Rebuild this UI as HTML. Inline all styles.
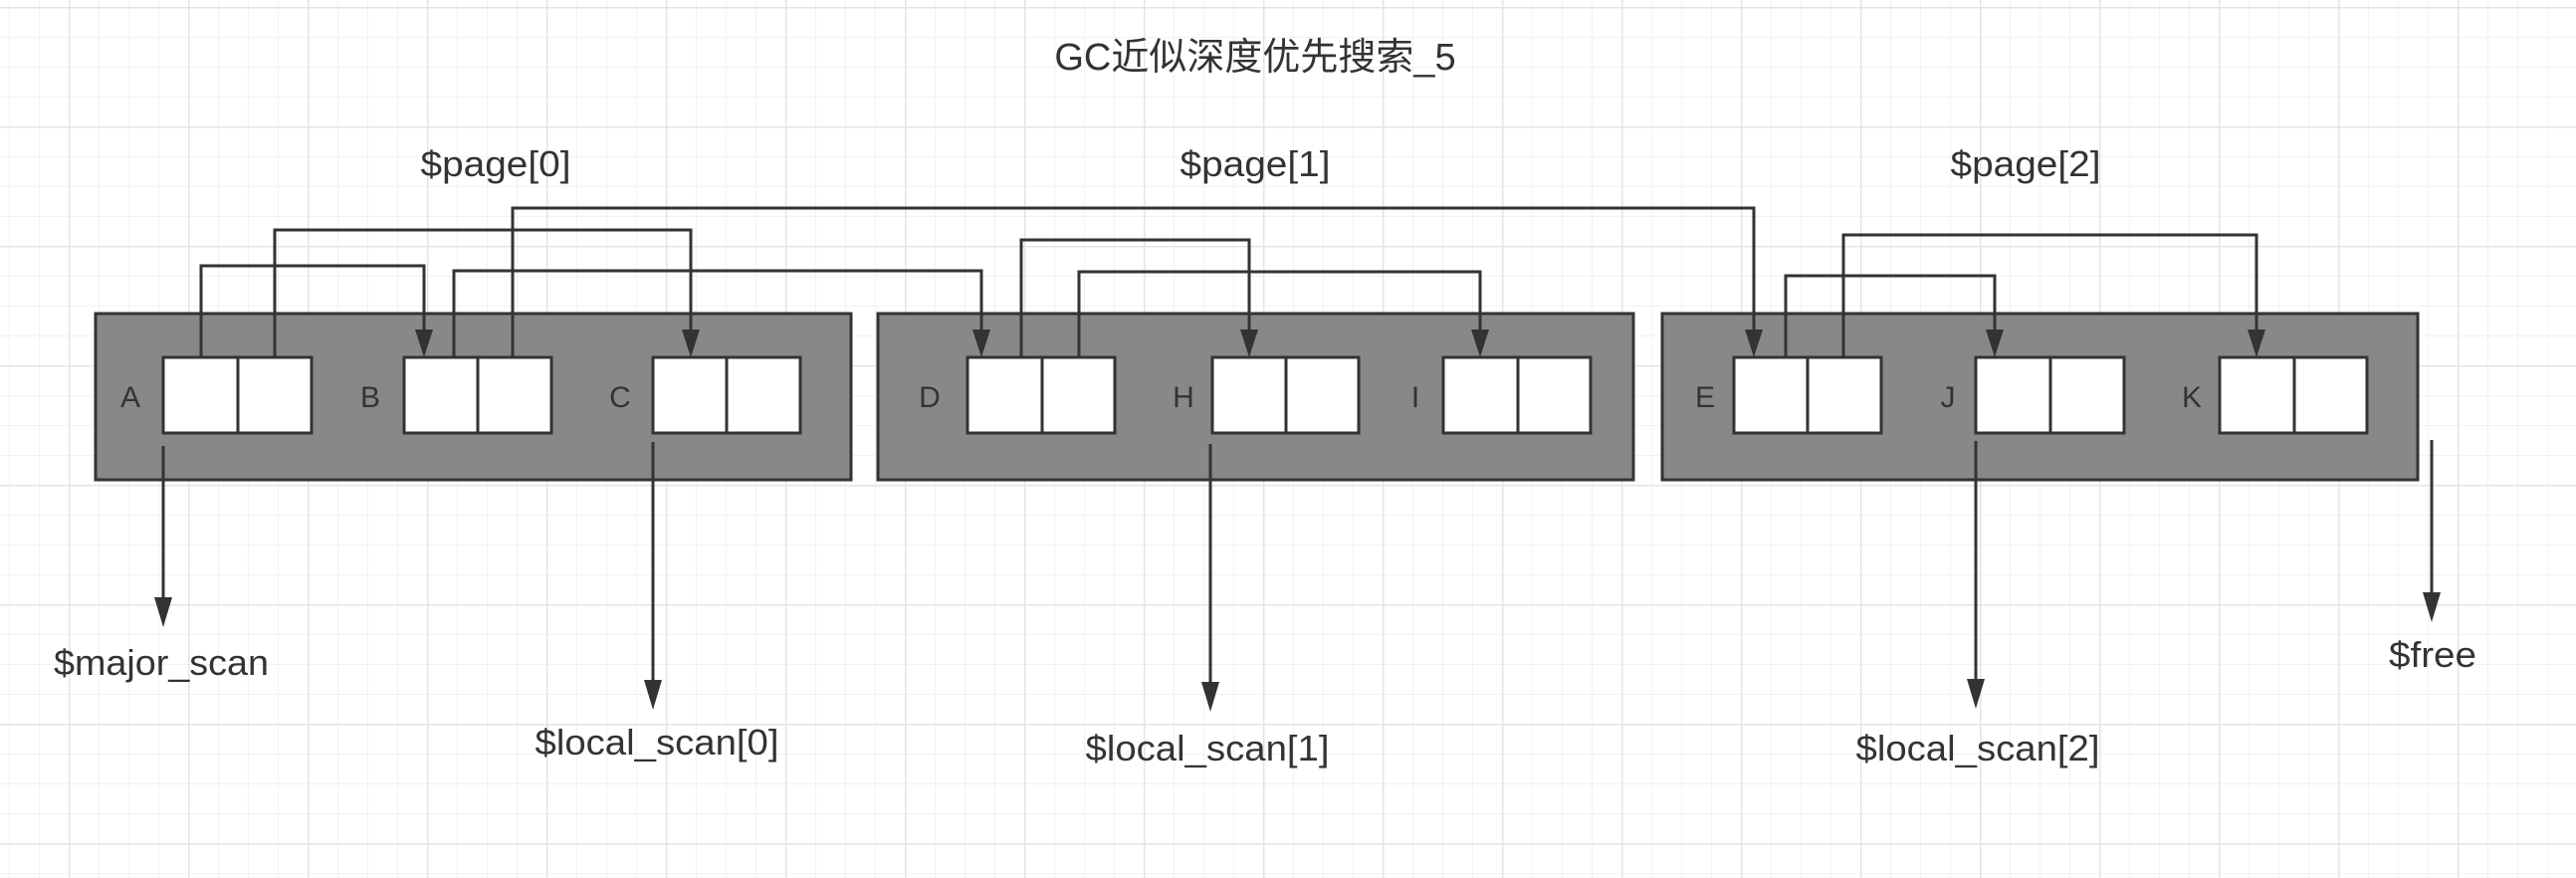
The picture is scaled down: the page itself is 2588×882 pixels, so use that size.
<!DOCTYPE html>
<html><head><meta charset="utf-8"><style>
html,body{margin:0;padding:0;background:#fff;}
svg{display:block;}
text{font-family:"Liberation Sans","Noto Sans CJK SC",sans-serif;fill:#333;}
</style></head><body>
<svg width="2588" height="882" viewBox="0 0 2588 882" xmlns="http://www.w3.org/2000/svg">
<defs>
<pattern id="minor" x="9" y="7" width="30" height="30" patternUnits="userSpaceOnUse">
<path d="M0 0H30M0 0V30" stroke="#eeeeee" stroke-width="1.5" fill="none"/>
</pattern>
<pattern id="major" x="69" y="7" width="120" height="120" patternUnits="userSpaceOnUse">
<path d="M0 0H120M0 0V120" stroke="#e4e4e4" stroke-width="3" fill="none"/>
</pattern>
</defs>
<rect width="2588" height="882" fill="url(#minor)"/>
<rect width="2588" height="882" fill="url(#major)"/>

<text x="1261" y="70" font-size="38" text-anchor="middle">GC近似深度优先搜索_5</text>
<g font-size="36" text-anchor="middle">
<text x="498" y="177" textLength="151" lengthAdjust="spacingAndGlyphs">$page[0]</text>
<text x="1261" y="177" textLength="151" lengthAdjust="spacingAndGlyphs">$page[1]</text>
<text x="2035" y="177" textLength="151" lengthAdjust="spacingAndGlyphs">$page[2]</text>
</g>

<g fill="#888" stroke="#333" stroke-width="3">
<rect x="96" y="315" width="759" height="167"/>
<rect x="882" y="315" width="759" height="167"/>
<rect x="1670" y="315" width="759" height="167"/>
</g>
<g fill="#fff" stroke="#333" stroke-width="3">
<rect x="164" y="359" width="149" height="76"/><line x1="239" y1="359" x2="239" y2="435"/>
<rect x="406" y="359" width="148" height="76"/><line x1="480" y1="359" x2="480" y2="435"/>
<rect x="656" y="359" width="148" height="76"/><line x1="730" y1="359" x2="730" y2="435"/>
<rect x="972" y="359" width="148" height="76"/><line x1="1047" y1="359" x2="1047" y2="435"/>
<rect x="1218" y="359" width="147" height="76"/><line x1="1292" y1="359" x2="1292" y2="435"/>
<rect x="1450" y="359" width="148" height="76"/><line x1="1525" y1="359" x2="1525" y2="435"/>
<rect x="1742" y="359" width="148" height="76"/><line x1="1816" y1="359" x2="1816" y2="435"/>
<rect x="1985" y="359" width="149" height="76"/><line x1="2060" y1="359" x2="2060" y2="435"/>
<rect x="2230" y="359" width="148" height="76"/><line x1="2305" y1="359" x2="2305" y2="435"/>
</g>
<g font-size="30" text-anchor="middle">
<text x="131" y="409">A</text><text x="372" y="409">B</text><text x="623" y="409">C</text>
<text x="934" y="409">D</text><text x="1189" y="409">H</text><text x="1422" y="409">I</text>
<text x="1713" y="409">E</text><text x="1957" y="409">J</text><text x="2202" y="409">K</text>
</g>

<g fill="none" stroke="#333" stroke-width="3">
<polyline points="202,359 202,267 426,267 426,335"/>
<polyline points="276,359 276,231 694,231 694,335"/>
<polyline points="456,359 456,272 986,272 986,335"/>
<polyline points="515,359 515,209 1762,209 1762,335"/>
<polyline points="1026,359 1026,241 1255,241 1255,335"/>
<polyline points="1084,359 1084,273 1487,273 1487,335"/>
<polyline points="1794,359 1794,277 2004,277 2004,335"/>
<polyline points="1852,359 1852,236 2267,236 2267,335"/>
<line x1="164" y1="448" x2="164" y2="605"/>
<line x1="656" y1="444" x2="656" y2="688"/>
<line x1="1216" y1="446" x2="1216" y2="690"/>
<line x1="1985" y1="443" x2="1985" y2="687"/>
<line x1="2443" y1="442" x2="2443" y2="600"/>
</g>
<g fill="#333">
<polygon points="417,331 435,331 426,359"/>
<polygon points="685,331 703,331 694,359"/>
<polygon points="977,331 995,331 986,359"/>
<polygon points="1753,331 1771,331 1762,359"/>
<polygon points="1246,331 1264,331 1255,359"/>
<polygon points="1478,331 1496,331 1487,359"/>
<polygon points="1995,331 2013,331 2004,359"/>
<polygon points="2258,331 2276,331 2267,359"/>
<polygon points="155,600 173,600 164,630"/>
<polygon points="647,683 665,683 656,713"/>
<polygon points="1207,685 1225,685 1216,715"/>
<polygon points="1976,682 1994,682 1985,712"/>
<polygon points="2434,595 2452,595 2443,625"/>
</g>

<g font-size="36" text-anchor="middle">
<text x="162" y="678" textLength="216" lengthAdjust="spacingAndGlyphs">$major_scan</text>
<text x="660" y="758" textLength="245" lengthAdjust="spacingAndGlyphs">$local_scan[0]</text>
<text x="1213" y="764" textLength="245" lengthAdjust="spacingAndGlyphs">$local_scan[1]</text>
<text x="1987" y="764" textLength="245" lengthAdjust="spacingAndGlyphs">$local_scan[2]</text>
<text x="2444" y="670" textLength="88" lengthAdjust="spacingAndGlyphs">$free</text>
</g>
</svg>
</body></html>
